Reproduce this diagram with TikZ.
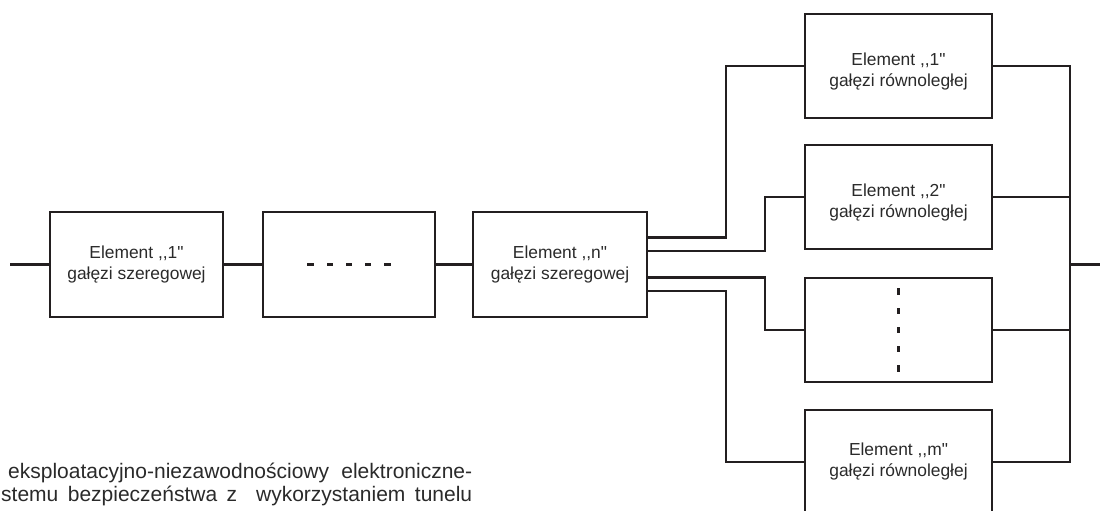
\documentclass[tikz,border=0pt]{standalone}
\usepackage{fontspec}
\newfontfamily\lsans{Liberation Sans}
\definecolor{ink}{HTML}{231F20}
\definecolor{txt}{HTML}{2A2A2A}
\tikzset{
  wire/.style={draw=ink, line width=2.8pt},
  blk/.style={draw=ink, line width=2.8pt, minimum height=105pt, inner sep=0pt, outer sep=0pt,
    align=center, text=txt, font=\lsans\fontsize{17.4}{21}\selectfont},
  pblk/.style={blk, minimum width=187pt, minimum height=104pt},
  captext/.style={text=txt, font=\lsans\fontsize{21}{21}\selectfont, inner sep=0pt, anchor=base west},
}
\newcommand{\lowtop}{\rule{0pt}{23.7pt}}
\begin{document}
\begin{tikzpicture}[x=1pt,y=-1pt]
\useasboundingbox (0,0) rectangle (1100,511);
\clip (0,0) rectangle (1100,511);
% series branch
\node[blk, minimum width=173pt] (s1) at (136.5,264.5) {Element ,\kern0pt,1"\\gałęzi szeregowej};
\node[blk, minimum width=172pt] (s2) at (349,264.5) {};
\node[blk, minimum width=174pt] (sn) at (560,264.5) {Element ,\kern0pt,n"\\gałęzi szeregowej};
% parallel branch
\node[pblk] (p1) at (898.5,66) {\lowtop Element ,\kern0pt,1"\\gałęzi równoległej};
\node[pblk] (p2) at (898.5,197) {\lowtop Element ,\kern0pt,2"\\gałęzi równoległej};
\node[pblk] (p3) at (898.5,330) {};
\node[pblk] (pm) at (898.5,462) {Element ,\kern0pt,m"\\gałęzi równoległej};
% helper coordinates
\coordinate (in) at (10,264.5);
\coordinate (out) at (1100,264.5);
\coordinate (bA) at (726,0);
\coordinate (bB) at (765,0);
\coordinate (bus) at (1070,0);
% series wires
\draw[wire] (in) -- (s1.west);
\draw[wire] (s1) -- (s2);
\draw[wire] (s2) -- (sn);
% fan-out
\draw[wire] ([yshift=27pt]sn.east) -| (bA |- p1.west) -- (p1.west);
\draw[wire] ([yshift=13.5pt]sn.east) -| (bB |- p2.west) -- (p2.west);
\draw[wire] ([yshift=-13pt]sn.east) -| (bB |- p3.west) -- (p3.west);
\draw[wire] ([yshift=-26.5pt]sn.east) -| (bA |- pm.west) -- (pm.west);
% fan-in
\draw[wire] (p1.east) -| (bus |- pm.east) -- (pm.east);
\draw[wire] (p2.east) -- (bus |- p2.east);
\draw[wire] (p3.east) -- (bus |- p3.east);
\draw[wire] (bus |- out) -- (out);
% dots
\foreach \i in {-2,...,2}
  \fill[ink] ([xshift=\i*19.2pt]s2.center) +(-3.2pt,-1.5pt) rectangle +(3.2pt,1.5pt);
\foreach \i in {-2,...,2}
  \fill[ink] ([yshift=\i*19.2pt]p3.center) +(-1.5pt,-3.2pt) rectangle +(1.5pt,3.2pt);
% caption fragment
\node[captext] (c1) at (8,478.5) {\makebox[464pt][s]{eksploatacyjno-niezawodnościowy elektroniczne-}};
\node[captext] (c2) at (1,501) {\makebox[471pt][s]{stemu bezpieczeństwa z\ \ wykorzystaniem tunelu}};
\end{tikzpicture}
\end{document}
